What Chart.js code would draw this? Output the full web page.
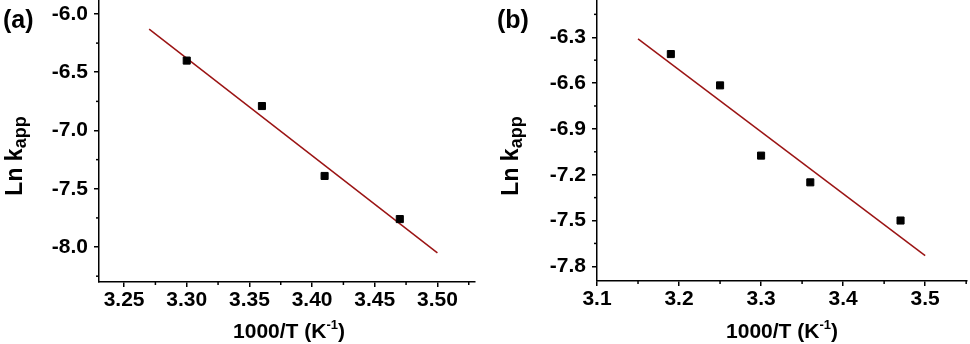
<!DOCTYPE html>
<html>
<head>
<meta charset="utf-8">
<script src="https://cdn.jsdelivr.net/npm/chart.js@4/dist/chart.umd.min.js"></script>
<style>
  html, body { margin: 0; padding: 0; background: #fff; }
  #wrap { position: relative; width: 970px; height: 344px; }
  .panel { position: absolute; top: 0; width: 485px; height: 344px; }
</style>
</head>
<body>
<div id="wrap">
  <div class="panel" style="left:0"><canvas id="chartA"></canvas></div>
  <div class="panel" style="left:485px"><canvas id="chartB"></canvas></div>
</div>
<script>
// panel (a)
const xA = [3.30, 3.36, 3.41, 3.47];
const yA = [-6.40, -6.79, -7.39, -7.76];
const fitXA = [3.27, 3.50];
const fitYA = [-6.13, -8.05];
const xTicksA = [3.25, 3.30, 3.35, 3.40, 3.45, 3.50];
const yTicksA = [-6.0, -6.5, -7.0, -7.5, -8.0];

// panel (b)
const xB = [3.19, 3.25, 3.30, 3.36, 3.47];
const yB = [-6.41, -6.615, -7.075, -7.25, -7.50];
const fitXB = [3.15, 3.50];
const fitYB = [-6.31, -7.73];
const xTicksB = [3.1, 3.2, 3.3, 3.4, 3.5];
const yTicksB = [-6.3, -6.6, -6.9, -7.2, -7.5, -7.8];

const FONT = "'Liberation Sans', Arial, sans-serif";
const LINE_RED = '#9b1414';

// minor ticks + custom titles (sub/superscripts)
const decorPlugin = {
  id: 'decor',
  afterDraw(chart, args, opts) {
    const ctx = chart.ctx;
    const xs = chart.scales.x, ys = chart.scales.y;
    ctx.save();
    ctx.strokeStyle = '#000';
    ctx.lineWidth = 1.5;
    // minor ticks halfway between majors
    const minor = (scale, majors, horiz) => {
      const step = Math.abs(majors[1] - majors[0]);
      const lo = scale.min, hi = scale.max;
      let v = Math.min(...majors) - step / 2;
      while (v > lo) v -= step;
      for (let i = 0; i < 40; i++, v += step) {
        if (v < lo - 1e-9 || v > hi + 1e-9) continue;
        const p = scale.getPixelForValue(v);
        ctx.beginPath();
        if (horiz) { ctx.moveTo(p, chart.chartArea.bottom); ctx.lineTo(p, chart.chartArea.bottom + 3); }
        else { ctx.moveTo(chart.chartArea.left, p); ctx.lineTo(chart.chartArea.left - 3, p); }
        ctx.stroke();
      }
    };
    minor(xs, opts.xMajor, true);
    minor(ys, opts.yMajor, false);

    ctx.fillStyle = '#000';
    // panel letter
    ctx.font = 'bold 25px ' + FONT;
    ctx.textBaseline = 'middle';
    ctx.textAlign = 'left';
    ctx.fillText(opts.letter, opts.letterX, 21);

    // x title: 1000/T (K^-1)
    ctx.font = 'bold 21px ' + FONT;
    const p1 = '1000/T (K', sup = '-1', p3 = ')';
    ctx.textBaseline = 'alphabetic';
    const w1 = ctx.measureText(p1).width, w3 = ctx.measureText(p3).width;
    ctx.font = 'bold 13px ' + FONT;
    const w2 = ctx.measureText(sup).width;
    let x = opts.xTitleX - (w1 + w2 + w3) / 2;
    const yb = 338;
    ctx.font = 'bold 21px ' + FONT;
    ctx.fillText(p1, x, yb); x += w1;
    ctx.font = 'bold 13px ' + FONT;
    ctx.fillText(sup, x, yb - 9); x += w2;
    ctx.font = 'bold 21px ' + FONT;
    ctx.fillText(p3, x, yb);

    // y title: Ln k_app (rotated)
    ctx.save();
    ctx.translate(opts.yTitleX, 156);
    ctx.rotate(-Math.PI / 2);
    ctx.font = 'bold 23px ' + FONT;
    const a = 'Ln k', b = 'app';
    const wa = ctx.measureText(a).width;
    ctx.font = 'bold 18px ' + FONT;
    const wb = ctx.measureText(b).width;
    let tx = -(wa + wb) / 2;
    ctx.textBaseline = 'middle';
    ctx.font = 'bold 23px ' + FONT;
    ctx.fillText(a, tx, 0);
    ctx.font = 'bold 18px ' + FONT;
    ctx.fillText(b, tx + wa, 5);
    ctx.restore();
    ctx.restore();
  }
};

function makeChart(id, px, py, fx, fy, xMin, xMax, yMin, yMax, xTicks, yTicks, left, right, bottom, decimals, decor) {
  const W = 485, H = 344;
  return new Chart(document.getElementById(id), {
    type: 'scatter',
    data: {
      datasets: [{
        data: fx.map((v, i) => ({ x: v, y: fy[i] })),
        showLine: true,
        borderColor: LINE_RED,
        borderWidth: 1.5,
        pointRadius: 0,
        order: 2
      }, {
        data: px.map((v, i) => ({ x: v, y: py[i] })),
        pointStyle: 'rect',
        pointRadius: 5,
        pointBackgroundColor: '#000',
        pointBorderColor: '#000',
        pointBorderWidth: 1,
        order: 1
      }]
    },
    options: {
      responsive: true,
      maintainAspectRatio: false,
      animation: false,
      layout: { autoPadding: false, padding: { left: 0, right: W - right, top: 0, bottom: 0 } },
      plugins: {
        legend: { display: false },
        tooltip: { enabled: false },
        decor: decor
      },
      scales: {
        x: {
          type: 'linear',
          min: xMin, max: xMax,
          afterBuildTicks: s => { s.ticks = xTicks.map(v => ({ value: v })); },
          afterFit: s => { s.height = H - bottom; s.paddingLeft = 0; s.paddingRight = 0; },
          border: { color: '#000', width: 1.5 },
          grid: { drawOnChartArea: false, drawTicks: true, tickLength: 5, color: '#000', lineWidth: 1.5 },
          ticks: {
            color: '#000', padding: 1, maxRotation: 0,
            font: { family: FONT, size: 21, weight: 'bold' },
            callback: v => v.toFixed(decimals)
          }
        },
        y: {
          type: 'linear',
          min: yMin, max: yMax,
          afterBuildTicks: s => { s.ticks = yTicks.map(v => ({ value: v })); },
          afterFit: s => { s.width = left; s.paddingTop = 0; s.paddingBottom = 0; },
          border: { color: '#000', width: 1.5 },
          grid: { drawOnChartArea: false, drawTicks: true, tickLength: 5, color: '#000', lineWidth: 1.5 },
          ticks: {
            color: '#000', padding: 6,
            font: { family: FONT, size: 21, weight: 'bold' },
            callback: v => v.toFixed(1)
          }
        }
      }
    },
    plugins: [decorPlugin]
  });
}

makeChart('chartA', xA, yA, fitXA, fitYA, 3.23, 3.53, -8.30, -5.88, xTicksA, yTicksA,
  99, 475, 282, 2,
  { letter: '(a)', letterX: 3, xTitleX: 289, yTitleX: 16, xMajor: xTicksA, yMajor: yTicksA });

makeChart('chartB', xB, yB, fitXB, fitYB, 3.1, 3.551, -7.896, -6.056, xTicksB, yTicksB,
  112, 482, 281, 1,
  { letter: '(b)', letterX: 12, xTitleX: 297, yTitleX: 27, xMajor: xTicksB, yMajor: yTicksB });
</script>
</body>
</html>
